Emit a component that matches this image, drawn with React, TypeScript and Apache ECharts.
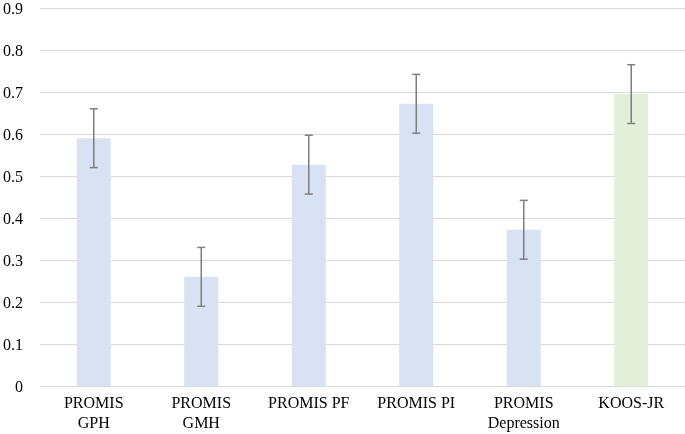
import React, { useEffect, useRef } from "react";
import * as echarts from "echarts";

const categories = ["PROMIS\nGPH", "PROMIS\nGMH", "PROMIS PF", "PROMIS PI", "PROMIS\nDepression", "KOOS-JR"];
const values = [0.59, 0.26, 0.527, 0.672, 0.372, 0.695];
const errLow = [0.52, 0.19, 0.457, 0.602, 0.302, 0.625];
const errHigh = [0.66, 0.33, 0.597, 0.742, 0.442, 0.765];
const barColors = ["#D9E2F3", "#D9E2F3", "#D9E2F3", "#D9E2F3", "#D9E2F3", "#E2EFD9"];
const yTicks = [0, 0.1, 0.2, 0.3, 0.4, 0.5, 0.6, 0.7, 0.8, 0.9];

export default function App() {
  const ref = useRef<HTMLDivElement>(null);
  useEffect(() => {
    if (!ref.current) return;
    const chart = echarts.init(ref.current, null, { renderer: "svg" });
    const font = "'Liberation Serif', 'Times New Roman', serif";
    chart.setOption({
      animation: false,
      grid: { left: 37, right: 0, top: 7, bottom: 48, containLabel: false },
      xAxis: {
        type: "category",
        data: categories,
        axisTick: { show: false },
        axisLine: { lineStyle: { color: "#d9d9d9", width: 1 } },
        axisLabel: {
          color: "#000",
          fontFamily: font,
          fontSize: 16,
          lineHeight: 20,
          margin: 6,
          interval: 0,
        },
      },
      yAxis: {
        type: "value",
        min: yTicks[0],
        max: yTicks[yTicks.length - 1],
        interval: 0.1,
        axisLine: { show: false },
        axisTick: { show: false },
        splitLine: { lineStyle: { color: "#d9d9d9", width: 1 } },
        axisLabel: {
          color: "#000",
          fontFamily: font,
          fontSize: 16,
          margin: 17,
          formatter: (v: number) => String(Math.round(v * 10) / 10),
        },
      },
      series: [
        {
          type: "bar",
          barWidth: 34,
          data: values.map((v, i) => ({ value: v, itemStyle: { color: barColors[i] } })),
        },
        {
          type: "custom",
          data: errLow.map((lo, i) => [i, lo, errHigh[i]]),
          renderItem: (params: any, api: any) => {
            const x = api.value(0);
            const lo = api.coord([x, api.value(1)]);
            const hi = api.coord([x, api.value(2)]);
            const hw = 4;
            const style = { stroke: "#7f7f7f", lineWidth: 1.5 };
            return {
              type: "group",
              children: [
                { type: "line", shape: { x1: lo[0], y1: lo[1], x2: hi[0], y2: hi[1] }, style },
                { type: "line", shape: { x1: lo[0] - hw, y1: lo[1], x2: lo[0] + hw, y2: lo[1] }, style },
                { type: "line", shape: { x1: hi[0] - hw, y1: hi[1], x2: hi[0] + hw, y2: hi[1] }, style },
              ],
            };
          },
          z: 10,
        },
      ],
    });
    return () => chart.dispose();
  }, []);
  return <div ref={ref} style={{ position: "fixed", left: 0, top: 0, width: 685, height: 434 }} />;
}
